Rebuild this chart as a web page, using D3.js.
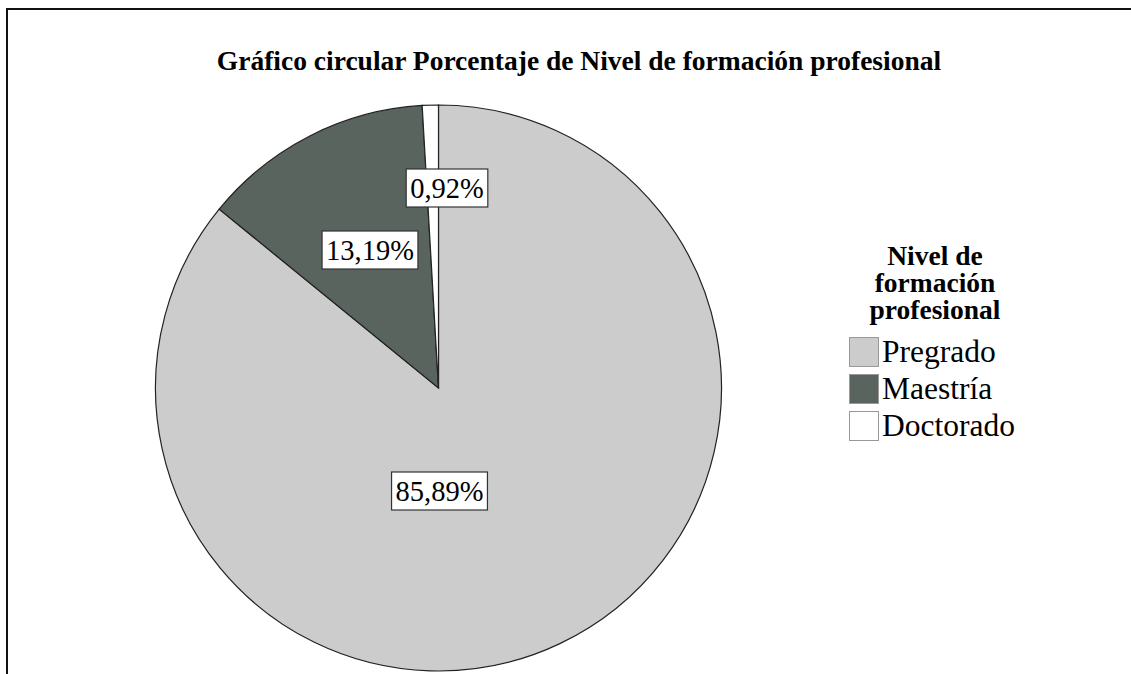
<!DOCTYPE html>
<html><head><meta charset="utf-8">
<script src="https://cdn.jsdelivr.net/npm/d3@7"></script>
<style>
body{margin:0;background:#fff}
svg text{font-family:"Liberation Serif","Times New Roman",Tinos,serif}
</style>
</head><body>
<svg id="c" width="1131" height="674"></svg>
<script>
const categories = ["Pregrado", "Maestría", "Doctorado"];
const values = [85.89, 13.19, 0.92];
const labels = ["85,89%", "13,19%", "0,92%"];
const colors = ["#cccccc", "#59645e", "#ffffff"];
const title = "Gráfico circular Porcentaje de Nivel de formación profesional";
const legendTitle = ["Nivel de", "formación", "profesional"];

const FONT = '"Liberation Serif", "Times New Roman", Tinos, serif';
const svg = d3.select("#c");
svg.append("rect").attr("x", 7).attr("y", 9).attr("width", 1200).attr("height", 800)
  .attr("fill", "none").attr("stroke", "#111").attr("stroke-width", 2);

function txt(sel) { return sel.append("text").style("font-family", FONT); }

txt(svg).attr("x", 579).attr("y", 70).attr("text-anchor", "middle")
  .attr("font-weight", "bold").attr("font-size", 27.5).text(title);

const cx = 438.5, cy = 388, r = 283;
const data = categories.map((c, i) => ({cat: c, value: values[i], label: labels[i], color: colors[i]}));
const pie = d3.pie().value(d => d.value).sort(null);
const arc = d3.arc().innerRadius(0).outerRadius(r);
const g = svg.append("g").attr("transform", `translate(${cx},${cy})`);
const arcs = pie(data);
g.selectAll("path").data(arcs).join("path")
  .attr("d", arc).attr("fill", d => d.data.color)
  .attr("stroke", "#222").attr("stroke-width", 1.2);

const labelPos = [
  {x: 439.5, y: 491},
  {x: 370, y: 250},
  {x: 447, y: 188}
];
const lg = svg.append("g");
arcs.forEach((a, i) => {
  const p = labelPos[i];
  const t = txt(lg).attr("x", p.x).attr("y", p.y + 10).attr("text-anchor", "middle")
    .attr("font-size", 28.5).text(a.data.label);
  const w = t.node().getComputedTextLength();
  lg.insert("rect", "text").attr("x", p.x - (w + 8) / 2).attr("y", p.y - 19)
    .attr("width", w + 8).attr("height", 38)
    .attr("fill", "#fff").attr("stroke", "#333").attr("stroke-width", 1.2);
});

const leg = svg.append("g");
legendTitle.forEach((l, i) => {
  txt(leg).attr("x", 935).attr("y", 265 + i * 27).attr("text-anchor", "middle")
    .attr("font-weight", "bold").attr("font-size", 27.5).text(l);
});
data.forEach((d, i) => {
  const y = 337 + i * 37;
  leg.append("rect").attr("x", 849.5).attr("y", y + 0.5).attr("width", 29).attr("height", 29)
    .attr("fill", d.color).attr("stroke", "#999").attr("stroke-width", 1);
  txt(leg).attr("x", 882).attr("y", y + 25).attr("font-size", 31.5).text(d.cat);
});
</script>
</body></html>
